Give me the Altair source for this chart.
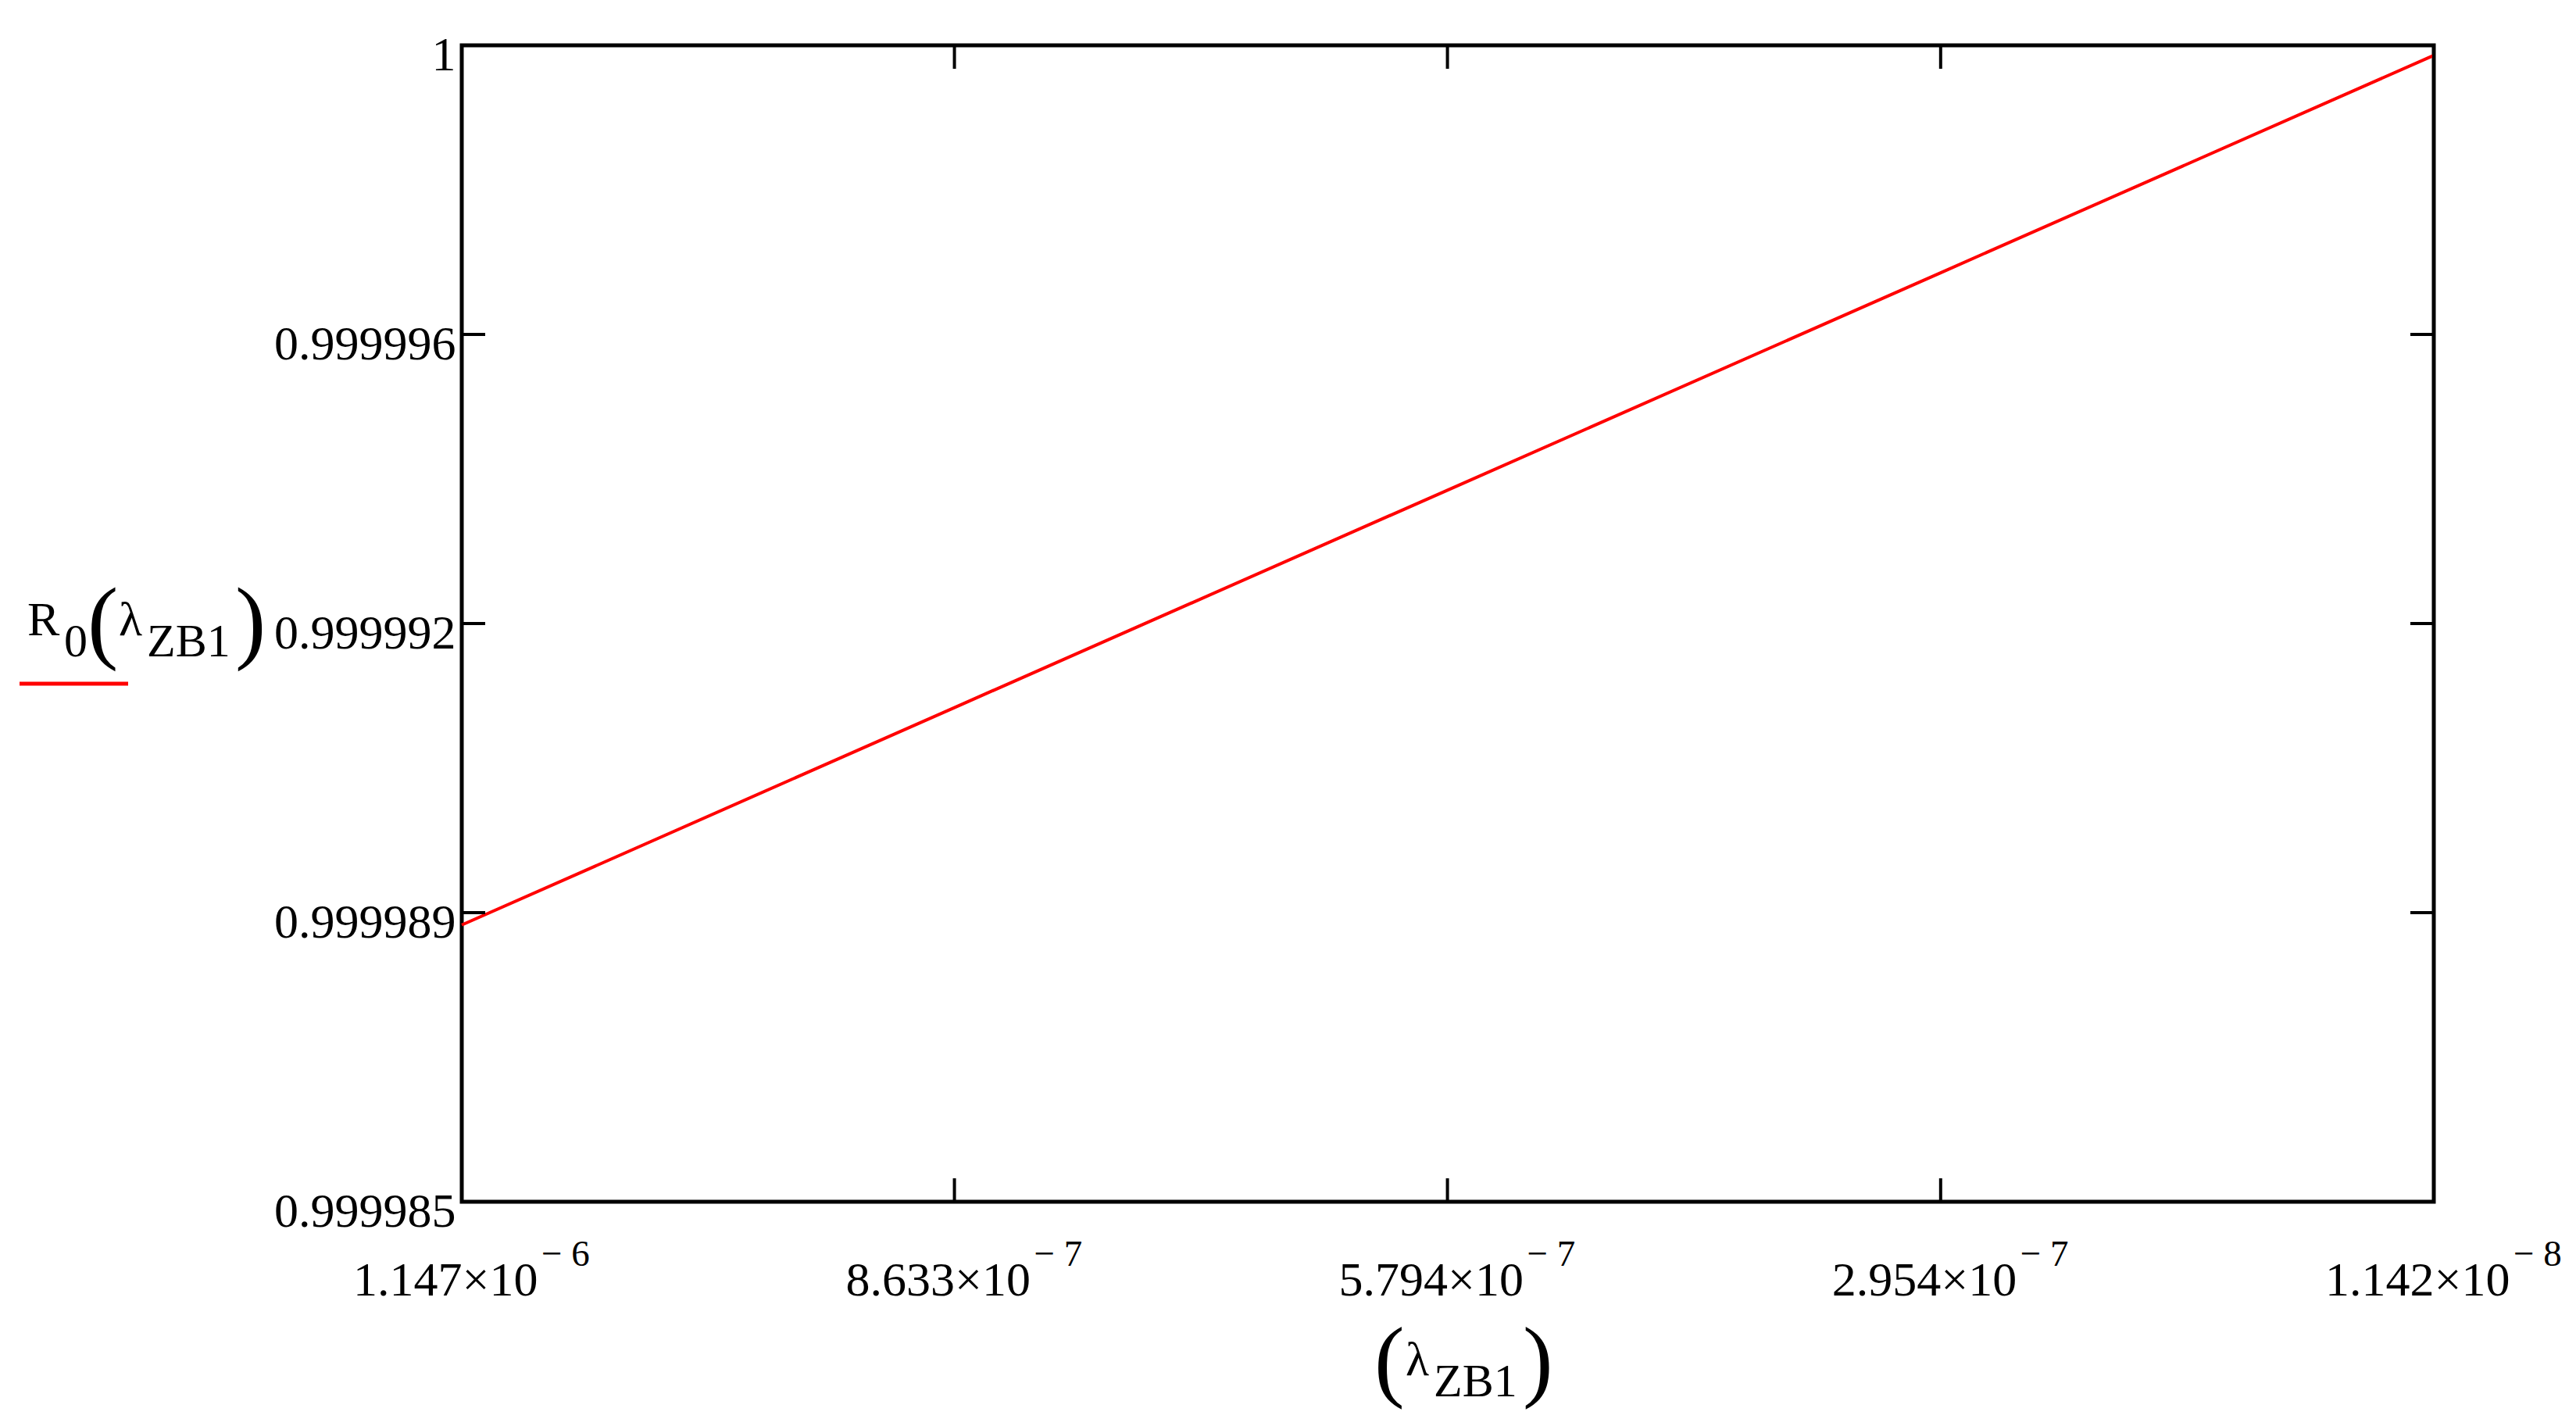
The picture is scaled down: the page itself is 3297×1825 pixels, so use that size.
import altair as alt
import pandas as pd

# ---- data ----
lam = [1.147e-6, 8.633e-7, 5.794e-7, 2.954e-7, 1.142e-8]
r0 = [0.99998859, 0.99999141, 0.99999423, 0.99999705, 0.99999987]

x_ticks = [1.147e-6, 8.633e-7, 5.794e-7, 2.954e-7, 1.142e-8]
x_mant = ["1.147×10", "8.633×10", "5.794×10", "2.954×10", "1.142×10"]
x_exp = ["− 6", "− 7", "− 7", "− 7", "− 8"]

y_ticks = [0.999985, 0.99998875, 0.9999925, 0.99999625, 1.0]
y_labels = ["0.999985", "0.999989", "0.999992", "0.999996", "1"]

W, H = 2524, 1480
FONT = "Liberation Serif"
TICK = 30


def label_expr(vals, labs, eps):
    expr = "''"
    for v, l in reversed(list(zip(vals, labs))):
        expr = f"abs(datum.value - ({v!r})) < {eps} ? '{l}' : ({expr})"
    return expr


x_scale = alt.Scale(domain=[min(lam), max(lam)], reverse=True, nice=False, zero=False)
y_scale = alt.Scale(domain=[0.999985, 1.0], nice=False, zero=False)

x_axis = alt.Axis(
    values=x_ticks, labelExpr=label_expr(x_ticks, x_mant, 1e-11), title=None,
    ticks=False, tickSize=0, domain=False, grid=False,
    labelFont=FONT, labelFontSize=62, labelColor="black", labelLimit=0,
    labelAlign="right", labelOffset=97, labelBaseline="alphabetic",
    labelPadding=119, labelFlush=False, labelOverlap=False, labelBound=False,
)
y_axis = alt.Axis(
    values=y_ticks, labelExpr=label_expr(y_ticks, y_labels, 1e-10), title=None,
    ticks=False, tickSize=0, domain=False, grid=False,
    labelFont=FONT, labelFontSize=62, labelColor="black", labelLimit=0,
    labelAlign="right", labelBaseline="middle", labelOffset=12, labelPadding=8,
    labelFlush=False, labelOverlap=False, labelBound=False,
)

df = pd.DataFrame({"lam": lam, "r0": r0})
xt = pd.DataFrame({"xt": x_ticks, "exp": x_exp})
yt = pd.DataFrame({"yt": y_ticks})

line = alt.Chart(df).mark_line(color="#ff0000", strokeWidth=4).encode(
    x=alt.X("lam:Q", scale=x_scale, axis=x_axis),
    y=alt.Y("r0:Q", scale=y_scale, axis=y_axis),
)

XT = alt.X("xt:Q", scale=x_scale, axis=x_axis)
YT = alt.Y("yt:Q", scale=y_scale, axis=y_axis)

tick_bottom = alt.Chart(xt).mark_rule(color="black", strokeWidth=4).encode(
    x=XT, y=alt.value(H), y2=alt.value(H - TICK))
tick_top = alt.Chart(xt).mark_rule(color="black", strokeWidth=4).encode(
    x=XT, y=alt.value(0), y2=alt.value(TICK))
tick_left = alt.Chart(yt).mark_rule(color="black", strokeWidth=4).encode(
    y=YT, x=alt.value(0), x2=alt.value(TICK))
tick_right = alt.Chart(yt).mark_rule(color="black", strokeWidth=4).encode(
    y=YT, x=alt.value(W - TICK), x2=alt.value(W))

exps = alt.Chart(xt).mark_text(
    font=FONT, fontSize=47, color="black", align="left", baseline="alphabetic", dx=102
).encode(x=XT, y=alt.value(1562), text="exp:N")

one = pd.DataFrame({"a": [0]})


def txt(s, x, y, size):
    return alt.Chart(one).mark_text(
        font=FONT, fontSize=size, color="black", align="left", baseline="alphabetic"
    ).encode(x=alt.value(x), y=alt.value(y), text=alt.value(s))


y_title = [
    txt("R", -556, 755, 62),
    txt("0", -509, 782, 60),
    txt("(", -479, 776, 118),
    txt("λ", -439, 755, 62),
    txt("ZB1", -403, 782, 60),
    txt(")", -290, 776, 118),
]
legend_line = alt.Chart(one).mark_rule(color="#ff0000", strokeWidth=5).encode(
    x=alt.value(-566), x2=alt.value(-427), y=alt.value(817))

x_title = [
    txt("(", 1168, 1721, 116),
    txt("λ", 1208, 1702, 62),
    txt("ZB1", 1244, 1729, 60),
    txt(")", 1358, 1721, 116),
]

chart = alt.layer(
    line, tick_bottom, tick_top, tick_left, tick_right, exps, legend_line,
    *y_title, *x_title,
).properties(
    width=W, height=H,
    background="white",
    autosize=alt.AutoSizeParams(type="none"),
    padding={"left": 583, "top": 50, "right": 170, "bottom": 270},
).configure_view(stroke="black", strokeWidth=5)

chart.save("out.html", embed_options={"renderer": "svg", "actions": False})
